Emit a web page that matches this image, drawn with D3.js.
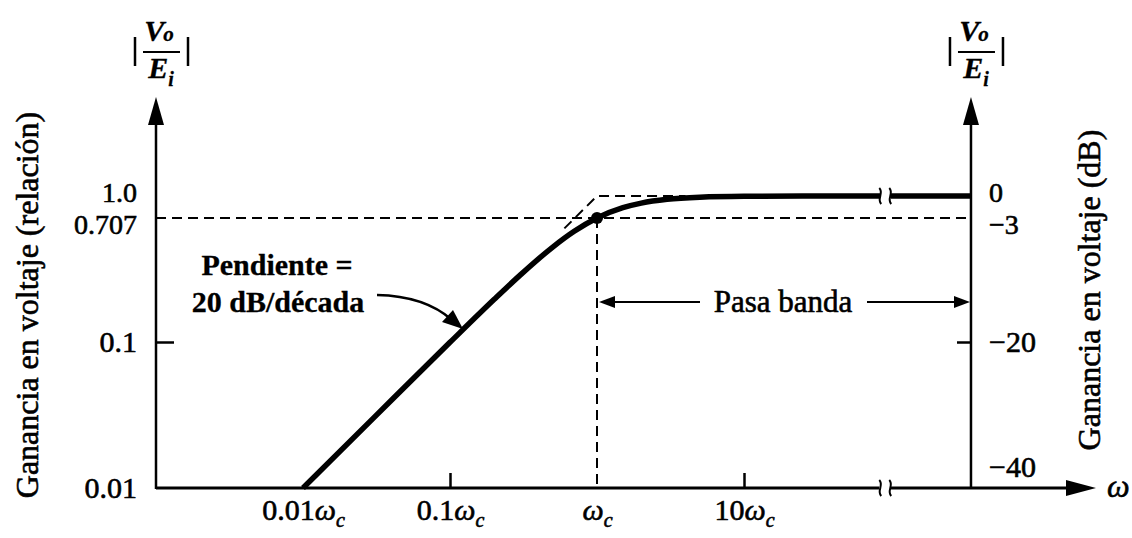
<!DOCTYPE html>
<html><head><meta charset="utf-8">
<script src="https://cdn.jsdelivr.net/npm/d3@7"></script>
<style>
html,body{margin:0;padding:0;background:#fff;}
svg text{font-family:"Liberation Serif","Times New Roman",serif;fill:#000;stroke:#000;stroke-width:0.6px;}
svg text.bold{stroke-width:0.3px;}
</style></head>
<body>
<svg id="chart" width="1132" height="538" font-family="Liberation Serif"></svg>
<script>
// ---- data (frequency in units of ωc, gain as ratio) ----
const freqTicks = [0.01, 0.1, 1, 10];
const freqTickPrefix = ["0.01", "0.1", "", "10"];
const gainTicks = [0.01, 0.1, 0.707, 1.0];
const gainTickLabels = ["0.01", "0.1", "0.707", "1.0"];
const dbTicks = [-40, -20, -3, 0];
const dbTickLabels = ["\u221240", "\u221220", "\u22123", "0"];
const respW = [0.01, 0.03, 0.1, 0.2, 0.3, 0.5, 0.7, 1, 1.5, 2, 3, 5, 10, 30, 90];
const respG = [0.01, 0.03, 0.0995, 0.196, 0.287, 0.447, 0.573, 0.707, 0.832, 0.894, 0.949, 0.981, 0.995, 0.999, 1.0];
const respAfterW = [100, 350];
const respAfterG = [1.0, 1.0];
const asymW = [0.6, 1, 4];
const asymG = [0.6, 1, 1];
const cutoffW = 1, cutoffG = 0.707;
const breakW = 90, rightAxisW = 350;

const svg = d3.select("#chart");
const FS = 30;
const x = d3.scaleLog().domain([0.001, 10]).range([156, 744]);
const y = d3.scaleLog().domain([0.01, 1]).range([488, 196]);
const yDb = d3.scaleLinear().domain([-40, 0]).range([488, 196]);

const x0 = x(0.001), xR = x(rightAxisW), yB = y(0.01), yTop = 97;
const xBr = x(breakW);

function tri(g, pts){ g.append("path").attr("d","M"+pts.map(p=>p.join(",")).join("L")+"Z").attr("fill","#000"); }

// dashed guide lines
const dash = "10,6";
svg.append("line").attr("x1", x0).attr("x2", xR).attr("y1", y(cutoffG)).attr("y2", y(cutoffG))
  .attr("stroke","#000").attr("stroke-width",2).attr("stroke-dasharray",dash);
svg.append("line").attr("x1", x(cutoffW)).attr("x2", x(cutoffW)).attr("y1", y(cutoffG)).attr("y2", yB)
  .attr("stroke","#000").attr("stroke-width",2).attr("stroke-dasharray",dash);
svg.append("path").datum(asymW.map((w,i)=>[w,asymG[i]]))
  .attr("d", d3.line().x(d=>x(d[0])).y(d=>y(d[1])))
  .attr("fill","none").attr("stroke","#000").attr("stroke-width",2).attr("stroke-dasharray",dash);

// axes lines
svg.append("line").attr("x1",x0).attr("x2",x0).attr("y1",yB+1).attr("y2",yTop+20).attr("stroke","#000").attr("stroke-width",2.5);
svg.append("line").attr("x1",xR).attr("x2",xR).attr("y1",yB+1).attr("y2",yTop+20).attr("stroke","#000").attr("stroke-width",2.5);
svg.append("line").attr("x1",x0).attr("x2",xBr-5).attr("y1",yB).attr("y2",yB).attr("stroke","#000").attr("stroke-width",3);
svg.append("line").attr("x1",xBr+6).attr("x2",1075).attr("y1",yB).attr("y2",yB).attr("stroke","#000").attr("stroke-width",3);
tri(svg, [[x0,yTop],[x0-8,yTop+28],[x0+8,yTop+28]]);
tri(svg, [[xR,yTop],[xR-8,yTop+28],[xR+8,yTop+28]]);
tri(svg, [[1096,yB],[1066,yB-8],[1066,yB+8]]);

// left axis labels
const gl = svg.append("g").attr("transform",`translate(${x0},0)`)
  .call(d3.axisLeft(y).tickValues(gainTicks).tickSize(0).tickPadding(19)
    .tickFormat((d,i)=>gainTickLabels[gainTicks.indexOf(d)]));
gl.select(".domain").remove();
gl.attr("font-family",null).attr("font-size",null);
gl.selectAll(".tick text").attr("font-size", d => (d===1.0||d===0.707) ? 28 : FS)
  .attr("dy", d => d===1.0 ? "0.2em" : d===0.707 ? "0.54em" : "0.32em");
const glt = svg.append("g").attr("transform",`translate(${x0},0)`)
  .call(d3.axisRight(y).tickValues([0.1]).tickSize(18).tickFormat(""));
glt.select(".domain").remove();
glt.selectAll("line").attr("stroke-width",2.5);

// right axis labels
const gr = svg.append("g").attr("transform",`translate(${xR},0)`)
  .call(d3.axisRight(yDb).tickValues(dbTicks).tickSize(0).tickPadding(18)
    .tickFormat(d=>dbTickLabels[dbTicks.indexOf(d)]));
gr.select(".domain").remove();
gr.attr("font-family",null).attr("font-size",null);
gr.selectAll(".tick text").attr("font-size", d => (d===0||d===-3) ? 28 : FS)
  .attr("dy", d => d===-40 ? "-0.38em" : d===0 ? "0.2em" : d===-3 ? "0.54em" : "0.32em");
const grt = svg.append("g").attr("transform",`translate(${xR},0)`)
  .call(d3.axisLeft(yDb).tickValues([-20]).tickSize(14).tickFormat(""));
grt.select(".domain").remove();
grt.selectAll("line").attr("stroke-width",2.5);

// x axis labels
const gx = svg.append("g").attr("transform",`translate(0,${yB})`)
  .call(d3.axisBottom(x).tickValues(freqTicks).tickSize(0).tickPadding(11).tickFormat(""));
gx.select(".domain").remove();
gx.attr("font-family",null).attr("font-size",null);
gx.selectAll(".tick text").attr("font-size",FS).each(function(d){
  const t = d3.select(this); const i = freqTicks.indexOf(d);
  t.text(null);
  t.append("tspan").text(freqTickPrefix[i]);
  t.append("tspan").attr("font-style","italic").text("\u03c9");
  t.append("tspan").attr("font-style","italic").attr("font-size",20).attr("dy","0.35em").text("c");
});
const gxt = svg.append("g").attr("transform",`translate(0,${yB})`)
  .call(d3.axisTop(x).tickValues([0.1, 10]).tickSize(15).tickFormat(""));
gxt.select(".domain").remove();
gxt.selectAll("line").attr("stroke-width",2.5);

// response curve
const line = d3.line().x(d=>x(d[0])).y(d=>y(d[1])).curve(d3.curveMonotoneX);
svg.append("path").datum(respW.map((w,i)=>[w,respG[i]])).attr("d",line)
  .attr("fill","none").attr("stroke","#000").attr("stroke-width",5.5).attr("stroke-linecap","butt");
svg.append("path").datum(respAfterW.map((w,i)=>[w,respAfterG[i]])).attr("d",line)
  .attr("fill","none").attr("stroke","#000").attr("stroke-width",5.5);
svg.append("circle").attr("cx",x(cutoffW)).attr("cy",y(cutoffG)).attr("r",6).attr("fill","#000");

// break marks
function brk(cx, cy){
  svg.append("rect").attr("x",cx-5).attr("y",cy-5).attr("width",10).attr("height",10).attr("fill","#fff");
  [-5, 5].forEach(o=>{
    svg.append("path").attr("d",`M${cx+o-1},${cy-8} C${cx+o+4},${cy-3} ${cx+o-4},${cy+3} ${cx+o+1},${cy+8}`)
      .attr("fill","none").attr("stroke","#000").attr("stroke-width",2);
  });
}
brk(xBr+1, y(1.0));
brk(xBr+1, yB);

// top labels |Vo/Ei|
function frac(cx){
  const g = svg.append("g");
  g.append("text").attr("class","bold").attr("x",cx-2).attr("y",41).attr("text-anchor","middle").attr("font-size",30).attr("font-style","italic").attr("font-weight","bold")
    .text("V").append("tspan").attr("font-size",21).attr("dx",-1).text("o");
  g.append("line").attr("x1",cx-18).attr("x2",cx+19).attr("y1",52).attr("y2",52).attr("stroke","#000").attr("stroke-width",2);
  g.append("text").attr("class","bold").attr("x",cx).attr("y",78).attr("text-anchor","middle").attr("font-size",30).attr("font-style","italic").attr("font-weight","bold")
    .text("E").append("tspan").attr("font-size",20).attr("dy",8).text("i");
  g.append("line").attr("x1",cx-26).attr("x2",cx-26).attr("y1",37).attr("y2",66).attr("stroke","#000").attr("stroke-width",2.5);
  g.append("line").attr("x1",cx+27).attr("x2",cx+27).attr("y1",37).attr("y2",66).attr("stroke","#000").attr("stroke-width",2.5);
}
frac(x0+5);
frac(xR+5);

// ω label
svg.append("text").attr("x",1107).attr("y",497).attr("font-size",32).attr("font-style","italic").text("\u03c9");

// axis titles
svg.append("text").attr("transform","translate(38,305) rotate(-90)").attr("text-anchor","middle")
  .attr("font-size",32).text("Ganancia en voltaje (relación)");
svg.append("text").attr("transform","translate(1100,290) rotate(-90)").attr("text-anchor","middle")
  .attr("font-size",32).text("Ganancia en voltaje (dB)");

// slope annotation
svg.append("text").attr("class","bold").attr("x",277).attr("y",275).attr("text-anchor","middle").attr("font-size",30).attr("font-weight","bold").text("Pendiente =");
svg.append("text").attr("class","bold").attr("x",278).attr("y",312).attr("text-anchor","middle").attr("font-size",30).attr("font-weight","bold").text("20 dB/década");
svg.append("path").attr("d","M377,295 Q425,296 452,320").attr("fill","none").attr("stroke","#000").attr("stroke-width",2.5);
tri(svg, [[463,329],[442,322],[453,310]]);

// pass band annotation
const pbY = 302;
svg.append("text").attr("x",783).attr("y",pbY+10).attr("text-anchor","middle").attr("font-size",31).text("Pasa banda");
svg.append("line").attr("x1",x(cutoffW)+14).attr("x2",700).attr("y1",pbY).attr("y2",pbY).attr("stroke","#000").attr("stroke-width",2);
svg.append("line").attr("x1",867).attr("x2",xR-14).attr("y1",pbY).attr("y2",pbY).attr("stroke","#000").attr("stroke-width",2);
tri(svg, [[x(cutoffW)+2,pbY],[x(cutoffW)+18,pbY-6],[x(cutoffW)+18,pbY+6]]);
tri(svg, [[xR-1,pbY],[xR-17,pbY-6],[xR-17,pbY+6]]);
</script>
</body></html>
